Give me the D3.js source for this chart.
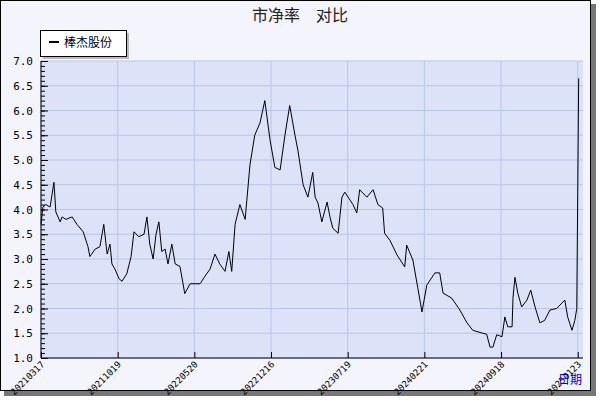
<!DOCTYPE html><html><head><meta charset="utf-8"><script src="https://cdn.jsdelivr.net/npm/d3@7"></script>
<style>body{margin:0;background:#fff}</style></head><body><svg id="c" width="600" height="400"></svg>
<script>
const dayIdx=[0,4,10,19,27,31,40,44,52,65,75,88,98,102,113,123,131,138,144,148,154,163,169,179,188,194,204,215,221,227,234,240,246,252,259,265,273,280,290,300,311,332,342,353,363,373,384,392,398,405,415,426,436,446,457,467,478,488,499,509,519,530,536,547,557,567,572,578,586,597,603,609,620,628,634,651,659,665,680,693,703,713,717,728,743,759,763,776,786,795,805,822,832,839,857,874,889,901,922,930,937,943,951,962,968,974,983,985,989,995,1003,1014,1022,1031,1041,1051,1062,1076,1093,1099,1108,1114,1118,1120,1122];
const pbValues=[3.7,4.05,4.1,4.05,4.55,3.95,3.75,3.85,3.8,3.85,3.7,3.55,3.25,3.05,3.2,3.25,3.7,3.1,3.3,2.9,2.8,2.6,2.55,2.7,3.05,3.55,3.45,3.5,3.85,3.3,3.0,3.5,3.75,3.15,3.2,2.9,3.3,2.9,2.85,2.3,2.5,2.5,2.65,2.8,3.1,2.9,2.75,3.15,2.75,3.7,4.1,3.8,4.9,5.5,5.75,6.2,5.4,4.85,4.8,5.5,6.1,5.5,5.2,4.5,4.25,4.75,4.25,4.13,3.75,4.15,3.85,3.62,3.52,4.25,4.35,4.1,3.93,4.4,4.25,4.4,4.1,4.03,3.52,3.38,3.08,2.84,3.28,2.98,2.43,1.93,2.47,2.72,2.72,2.31,2.21,1.97,1.71,1.56,1.5,1.48,1.22,1.22,1.47,1.43,1.83,1.63,1.63,2.23,2.63,2.31,2.03,2.17,2.37,2.03,1.71,1.76,1.97,2.0,2.17,1.83,1.56,1.76,2.0,4.33,6.65];
const xTickIdx=[0,160,320,480,640,800,960,1120];
const xTickLabels=["20210317","20211019","20220520","20221216","20230719","20240221","20240918","20250123"];
const yTicks=[1.0,1.5,2.0,2.5,3.0,3.5,4.0,4.5,5.0,5.5,6.0,6.5,7.0];
const seriesName="棒杰股份";

const svg=d3.select("#c");
svg.append("rect").attr("x",4).attr("y",4).attr("width",592).attr("height",392).attr("fill","#777");
svg.append("rect").attr("x",0.5).attr("y",0.5).attr("width",590).attr("height",390).attr("fill","#f3f4fc").attr("stroke","#000");
const L=41,R=583,T=61,B=358;
const x=d3.scaleLinear().domain([0,1131]).range([L,R]);
const y=d3.scaleLinear().domain([1,7]).range([B,T]);
svg.append("rect").attr("x",L).attr("y",T).attr("width",R-L).attr("height",B-T).attr("fill","#dce2f8");
const g=svg.append("g");
g.selectAll(".gy").data(yTicks).join("line").attr("x1",L).attr("x2",R).attr("y1",d=>y(d)).attr("y2",d=>y(d)).attr("stroke","#b9c5e8");
g.selectAll(".gx").data(xTickIdx).join("line").attr("x1",d=>x(d)).attr("x2",d=>x(d)).attr("y1",T).attr("y2",B).attr("stroke","#b9c5e8");
svg.append("path").datum(dayIdx.map((d,i)=>[d,pbValues[i]])).attr("fill","none").attr("stroke","#000").attr("stroke-width",1)
 .attr("d",d3.line().x(d=>x(d[0])).y(d=>y(d[1])));
const ya=svg.append("g").attr("transform",`translate(${L},0)`).call(d3.axisLeft(y).tickValues(yTicks).tickSize(0).tickFormat(d3.format(".1f")).tickPadding(8));
ya.select(".domain").remove();
ya.selectAll("text").attr("font-family","DejaVu Sans Mono").attr("font-size",11).attr("fill","#000");
svg.append("g").attr("transform",`translate(${L},0)`).call(d3.axisRight(y).ticks(60).tickSize(4).tickFormat("")).select(".domain").remove();
svg.append("g").attr("transform",`translate(${L},0)`).call(d3.axisRight(y).tickValues(yTicks).tickSize(7).tickFormat("")).select(".domain").remove();
svg.append("line").attr("x1",L).attr("x2",L).attr("y1",T).attr("y2",B).attr("stroke","#000");
svg.append("line").attr("x1",L).attr("x2",R).attr("y1",B).attr("y2",B).attr("stroke","#000");
const xa=svg.append("g").attr("transform",`translate(0,${B})`).call(d3.axisTop(x).tickValues(xTickIdx).tickSize(6).tickFormat(""));
xa.select(".domain").remove();
svg.selectAll(".xl").data(xTickIdx).join("text").attr("font-family","DejaVu Sans Mono").attr("font-size",9)
 .attr("text-anchor","end").attr("transform",(d)=>`translate(${x(d)+4},${B+7}) rotate(-45)`).text((d,i)=>xTickLabels[i]);
svg.append("text").attr("x",582).attr("y",384).attr("text-anchor","end").attr("fill","#0000cc").attr("font-size",12).attr("font-family","Noto Sans CJK SC").text("日期");
svg.append("text").attr("x",300).attr("y",21).attr("text-anchor","middle").attr("font-size",16).attr("font-family","Noto Sans CJK SC").attr("fill","#222").attr("xml:space","preserve").style("white-space","pre").text("市净率　对比");
svg.append("rect").attr("x",43).attr("y",33).attr("width",86).attr("height",26).attr("fill","#bbb");
svg.append("rect").attr("x",40.5).attr("y",30.5).attr("width",86).attr("height",26).attr("fill","#fff").attr("stroke","#000");
svg.append("line").attr("x1",49).attr("x2",59).attr("y1",42).attr("y2",42).attr("stroke","#000").attr("stroke-width",2);
svg.append("text").attr("x",64).attr("y",47).attr("font-size",12).attr("font-family","Noto Sans CJK SC").text(seriesName);
</script></body></html>
